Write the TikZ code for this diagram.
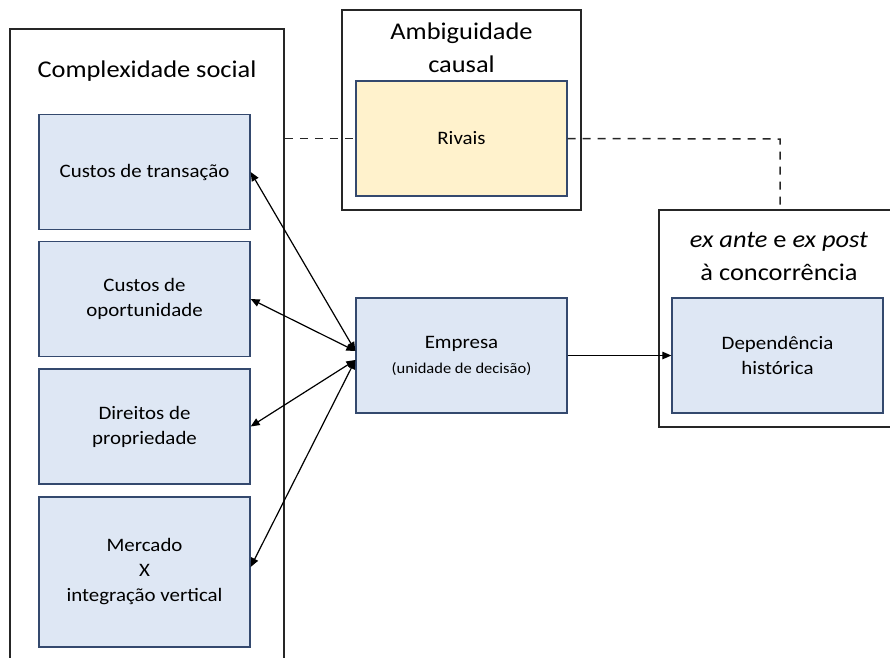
\documentclass[tikz,border=0pt]{standalone}
\usepackage{fontspec}
\setmainfont{Carlito}[FakeStretch=1.1]
\usetikzlibrary{positioning,arrows.meta}
\definecolor{boxblue}{HTML}{DEE7F4}
\definecolor{boxline}{HTML}{34496E}
\definecolor{boxyellow}{HTML}{FFF2CC}

\begin{document}
\begin{tikzpicture}[
    x = 1pt, y = -1pt,
    frame/.style = {draw = black!85, line width = 1.5pt, inner sep = 0pt},
    item/.style = {draw = boxline, line width = 1.3pt, fill = boxblue, minimum width = 211pt, minimum height = 115pt, align = center, inner sep = 0pt, font = \fontsize{19}{25}\selectfont},
    title/.style = {align = center, font = \fontsize{24}{33}\selectfont},
    link/.style = {{Triangle[length = 9pt, width = 7.5pt]}-{Triangle[length = 9pt, width = 7.5pt]}, line width = 1.2pt},
    node distance = 127pt
]
\useasboundingbox (0,0) rectangle (890,657);
\clip (0,0) rectangle (890,657);
% frames
\node[frame, minimum width = 274pt, minimum height = 680pt] (social) at (147,369) {};
\node[frame, minimum width = 239pt, minimum height = 200pt] (ambig) at (461.5,110) {};
\node[frame, minimum width = 240pt, minimum height = 217pt] (expost) at (779,318.5) {};
\node[title] (socialtitle) at (147,71) {Complexidade social};
\node[title] (ambigtitle) at (461.5,48) {Ambiguidade\\causal};
\node[title] (exposttitle) at (779,256) {\textit{ex ante} e \textit{ex post}\\à concorrência};
% social complexity boxes
\node[item] (transacao) at (144.5,172) {Custos de transação};
\node[item] (oportunidade) [below of = transacao] {Custos de\\oportunidade};
\node[item] (propriedade) [below of = oportunidade, yshift = -0.5pt] {Direitos de\\propriedade};
\node[item, minimum height = 150pt] (mercado) [below of = propriedade, yshift = -18.5pt] {Mercado\\X\\integração vertical};
% middle and right
\node[item, fill = boxyellow] (rivais) at (461.5,138.5) {Rivais};
\node[item] (empresa) [below of = rivais, node distance = 217pt] {Empresa\\{\fontsize{15}{21}\selectfont (unidade de decisão)}};
\node[item] (dependencia) [right of = empresa, node distance = 316pt] {Dependência\\histórica};
% dashed links
\coordinate (bend) at (780,139);
\draw[dash pattern = on 8pt off 7pt, line width = 1.5pt, black!85] (social.east |- rivais.west) -- (rivais.west);
\draw[dash pattern = on 8pt off 7pt, line width = 1.5pt, black!85] (rivais.east) -- (bend) -- (bend |- expost.north);
% arrows
\draw[link] ([yshift = 4.5pt]empresa.west) -- (transacao.east);
\draw[link] ([yshift = 4.5pt]empresa.west) -- (oportunidade.east);
\draw[link] ([yshift = -4.5pt]empresa.west) -- (propriedade.east);
\draw[link] ([yshift = -4.5pt]empresa.west) -- ([yshift = 5pt]mercado.east);
\draw[-{Triangle[length = 9pt, width = 7.5pt]}, line width = 1.2pt] (empresa.east) -- (dependencia.west);

\end{tikzpicture}
\end{document}
